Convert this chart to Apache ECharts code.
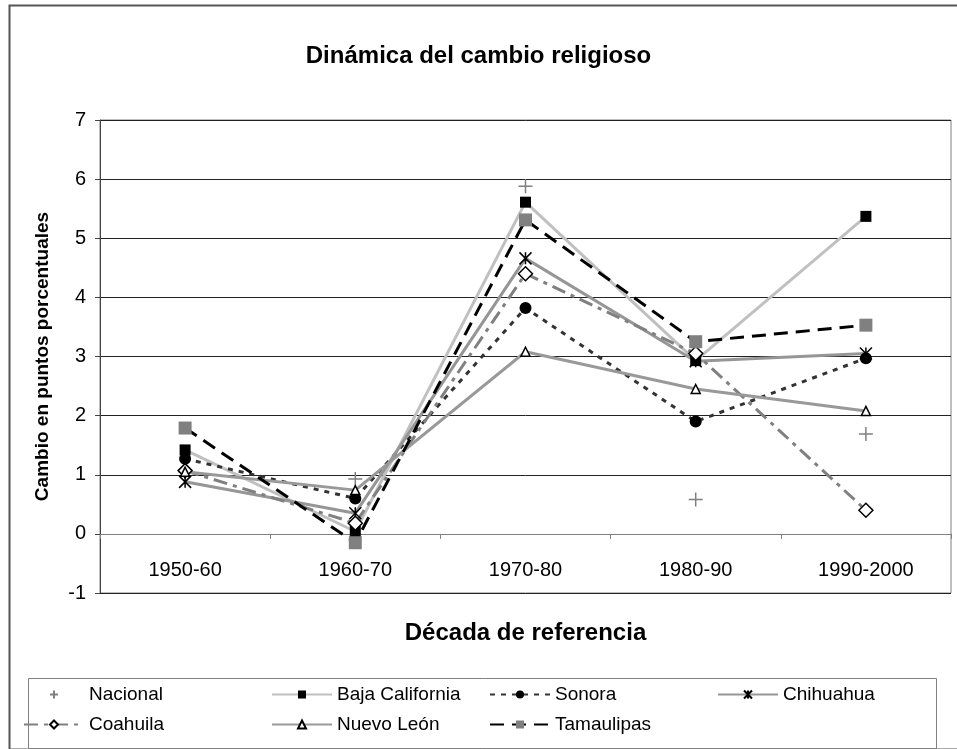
<!DOCTYPE html>
<html lang="es">

<head>
  <meta charset="UTF-8">
  <title>Dinámica del cambio religioso</title>
  <script src="https://cdn.jsdelivr.net/npm/echarts@6/dist/echarts.min.js"></script>
</head>

<body style="margin:0">
  <div id="main" style="width: 957px; height: 749px"></div>

  <script>
    let dom = document.getElementById('main')
    let myChart = echarts.init(dom)

    // datos
    let decadas = ['1950-60', '1960-70', '1970-80', '1980-90', '1990-2000']
    let yTicks = [-1, 0, 1, 2, 3, 4, 5, 6, 7]
    let nacional = [1.05, 0.93, 5.88, 0.58, 1.69]
    let bajaCalifornia = [1.42, 0.04, 5.61, 2.93, 5.37]
    let sonora = [1.27, 0.6, 3.82, 1.9, 2.97]
    let chihuahua = [0.88, 0.35, 4.66, 2.92, 3.05]
    let coahuila = [1.07, 0.18, 4.4, 3.05, 0.4]
    let nuevoLeon = [1.05, 0.74, 3.08, 2.45, 2.08]
    let tamaulipas = [1.79, -0.15, 5.31, 3.25, 3.53]

    let font = "'Liberation Sans', Arial, sans-serif"
    let plus = 'path://M5,0L5,10M0,5L10,5'
    let asterisco = 'path://M0,0L10,10M10,0L0,10M5,0L5,10'

    let legendBase = {
      orient: 'vertical',
      top: 680,
      itemWidth: 60,
      itemHeight: 10,
      itemGap: 11,
      textStyle: { fontFamily: font, fontSize: 19, color: '#000' }
    }

    let option = {
      animation: false,
      backgroundColor: '#fff',
      title: {
        text: 'Dinámica del cambio religioso',
        left: 'center',
        top: 39,
        textStyle: { fontFamily: font, fontSize: 24, fontWeight: 'bold', color: '#000' }
      },
      grid: {
        left: 100,
        right: 6,
        top: 120,
        bottom: 156,
        show: true,
        borderColor: '#808080',
        borderWidth: 1
      },
      legend: [
        Object.assign({ left: 18, data: ['Nacional', 'Coahuila'] }, legendBase),
        Object.assign({ left: 266, data: ['Baja California', 'Nuevo León'] }, legendBase),
        Object.assign({ left: 484, data: ['Sonora', 'Tamaulipas'] }, legendBase),
        Object.assign({ left: 712, data: ['Chihuahua'] }, legendBase)
      ],
      xAxis: {
        type: 'category',
        data: decadas,
        boundaryGap: true,
        name: 'Década de referencia',
        nameLocation: 'middle',
        nameGap: 28,
        nameTextStyle: { fontFamily: font, fontSize: 24, fontWeight: 'bold', color: '#000' },
        axisLine: { onZero: true, lineStyle: { color: '#808080', width: 1 } },
        axisTick: { show: true, length: 5, lineStyle: { color: '#808080' } },
        axisLabel: { margin: -33, fontFamily: font, fontSize: 20, color: '#000' }
      },
      yAxis: {
        type: 'value',
        min: yTicks[0],
        max: yTicks[yTicks.length - 1],
        interval: 1,
        name: 'Cambio en puntos porcentuales',
        nameLocation: 'middle',
        nameGap: 48,
        nameTextStyle: { fontFamily: font, fontSize: 19, fontWeight: 'bold', color: '#000' },
        axisLine: { show: true, lineStyle: { color: '#444', width: 1 } },
        axisTick: { show: true, length: 5, lineStyle: { color: '#444' } },
        axisLabel: { margin: 14, fontFamily: font, fontSize: 20, color: '#000' },
        splitLine: { lineStyle: { color: '#222', width: 1 } }
      },
      series: [{
          name: 'Nacional',
          type: 'line',
          data: nacional,
          symbol: plus,
          symbolSize: 14,
          lineStyle: { width: 0, opacity: 0 },
          itemStyle: { color: '#808080', borderColor: '#808080', borderWidth: 1.5 }
        },
        {
          name: 'Baja California',
          type: 'line',
          data: bajaCalifornia,
          symbol: 'rect',
          symbolSize: 11,
          lineStyle: { color: '#c0c0c0', width: 3 },
          itemStyle: { color: '#000' }
        },
        {
          name: 'Sonora',
          type: 'line',
          data: sonora,
          symbol: 'circle',
          symbolSize: 12,
          lineStyle: { color: '#333', width: 3, type: [5, 6] },
          itemStyle: { color: '#000' }
        },
        {
          name: 'Chihuahua',
          type: 'line',
          data: chihuahua,
          symbol: asterisco,
          symbolSize: 12,
          lineStyle: { color: '#969696', width: 3 },
          itemStyle: { color: '#000', borderColor: '#000', borderWidth: 1.5 }
        },
        {
          name: 'Coahuila',
          type: 'line',
          data: coahuila,
          symbol: 'diamond',
          symbolSize: 14,
          lineStyle: { color: '#808080', width: 3, type: [14, 6, 4, 6] },
          itemStyle: { color: '#fff', borderColor: '#000', borderWidth: 1.5 }
        },
        {
          name: 'Nuevo León',
          type: 'line',
          data: nuevoLeon,
          symbol: 'triangle',
          symbolSize: 9,
          lineStyle: { color: '#999', width: 3 },
          itemStyle: { color: '#fff', borderColor: '#000', borderWidth: 1.5 }
        },
        {
          name: 'Tamaulipas',
          type: 'line',
          data: tamaulipas,
          symbol: 'rect',
          symbolSize: 13,
          lineStyle: { color: '#000', width: 3, type: [14, 8] },
          itemStyle: { color: '#808080' }
        }
      ],
      graphic: [{
          type: 'rect',
          left: 7,
          top: 3,
          shape: { width: 970, height: 744 },
          style: { fill: 'none', stroke: '#555', lineWidth: 2 },
          silent: true
        },
        {
          type: 'rect',
          left: 26,
          top: 676,
          shape: { width: 908, height: 70 },
          style: { fill: 'none', stroke: '#808080', lineWidth: 1 },
          silent: true
        }
      ]
    }
    myChart.setOption(option)
  </script>
</body>

</html>
